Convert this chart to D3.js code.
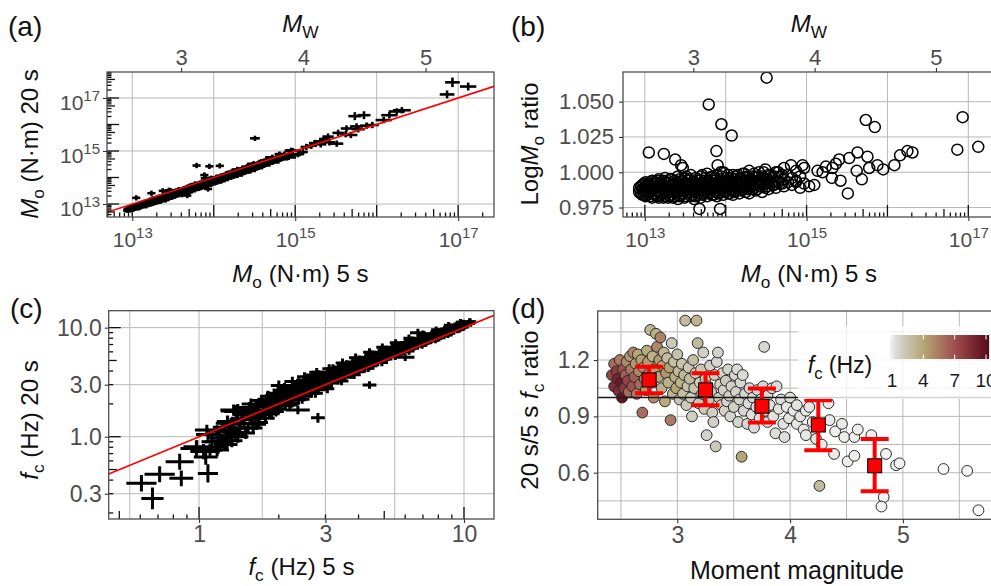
<!DOCTYPE html>
<html>
<head>
<meta charset="utf-8">
<script src="https://cdn.jsdelivr.net/npm/d3@7"></script>
<style>
  body { margin: 0; background: #fff; }
  svg { display: block; }
</style>
</head>
<body>
<div id="chart"></div>
<script>
// ---------- data ----------
// panels (a) and (b): [log10 Mo 5 s, LogMo ratio (20 s / 5 s), x error (decades), y error (decades)]
const moBand = [
  [12.93,0.986,.04,.08],[12.93,0.989,.04,.09],
  [12.97,0.984,.05,.08],[12.97,0.988,.04,.1],[12.97,0.991,.05,.09],
  [13.01,0.983,.04,.09],[13.01,0.986,.05,.08],[13.01,0.99,.04,.1],[13.01,0.993,.05,.09],
  [13.05,0.985,.05,.1],[13.05,0.988,.04,.09],[13.05,0.992,.05,.08],
  [13.09,0.982,.04,.09],[13.09,0.987,.05,.1],[13.09,0.99,.05,.08],[13.09,0.994,.04,.09],
  [13.13,0.984,.05,.09],[13.13,0.989,.04,.1],[13.13,0.993,.05,.08],
  [13.17,0.982,.05,.1],[13.17,0.986,.04,.09],[13.17,0.991,.05,.1],[13.17,0.995,.04,.08],
  [13.21,0.985,.05,.09],[13.21,0.988,.05,.1],[13.21,0.993,.04,.09],
  [13.25,0.983,.04,.1],[13.25,0.987,.05,.09],[13.25,0.99,.05,.08],[13.25,0.996,.04,.1],
  [13.29,0.982,.05,.09],[13.29,0.986,.04,.1],[13.29,0.992,.05,.09],
  [13.33,0.984,.05,.1],[13.33,0.988,.04,.09],[13.33,0.991,.05,.08],[13.33,0.995,.05,.1],
  [13.37,0.983,.04,.09],[13.37,0.987,.05,.1],[13.37,0.994,.05,.09],
  [13.41,0.981,.05,.1],[13.41,0.986,.05,.09],[13.41,0.99,.04,.1],[13.41,0.997,.05,.09],
  [13.45,0.984,.05,.1],[13.45,0.989,.05,.09],[13.45,0.993,.04,.1],
  [13.49,0.982,.05,.09],[13.49,0.987,.05,.1],[13.49,0.991,.06,.09],[13.49,0.996,.05,.1],
  [13.53,0.985,.05,.1],[13.53,0.99,.06,.09],[13.53,0.994,.05,.1],
  [13.57,0.983,.05,.09],[13.57,0.988,.06,.1],[13.57,0.992,.05,.09],[13.57,0.998,.05,.1],
  [13.61,0.981,.06,.1],[13.61,0.986,.05,.09],[13.61,0.99,.05,.1],
  [13.65,0.984,.05,.1],[13.65,0.989,.06,.09],[13.65,0.995,.05,.1],
  [13.69,0.982,.06,.09],[13.69,0.987,.05,.1],[13.69,0.992,.06,.1],[13.69,0.997,.05,.09],
  [13.73,0.985,.05,.1],[13.73,0.99,.06,.09],[13.73,0.994,.05,.1],
  [13.77,0.983,.06,.1],[13.77,0.988,.05,.09],[13.77,0.993,.06,.1],[13.77,0.999,.05,.1],
  [13.81,0.986,.06,.09],[13.81,0.991,.05,.1],[13.81,0.996,.06,.1],
  [13.85,0.984,.06,.1],[13.85,0.989,.06,.09],[13.85,0.994,.05,.1],
  [13.89,0.983,.05,.1],[13.89,0.987,.06,.1],[13.89,0.992,.06,.09],[13.89,0.998,.05,.1],
  [13.93,0.986,.06,.1],[13.93,0.99,.06,.09],[13.93,0.995,.06,.1],
  [13.97,0.984,.06,.1],[13.97,0.989,.06,.1],[13.97,0.993,.05,.09],[13.97,1.0,.06,.1],
  [14.01,0.987,.06,.1],[14.01,0.991,.06,.1],[14.01,0.996,.06,.09],
  [14.05,0.985,.06,.1],[14.05,0.99,.07,.1],[14.05,0.994,.06,.09],
  [14.09,0.984,.06,.1],[14.09,0.988,.07,.1],[14.09,0.993,.06,.1],[14.09,0.998,.06,.09],
  [14.13,0.987,.07,.1],[14.13,0.992,.06,.1],[14.13,0.997,.06,.1],
  [14.17,0.985,.06,.1],[14.17,0.99,.07,.1],[14.17,0.995,.06,.09],
  [14.21,0.988,.07,.1],[14.21,0.993,.06,.1],[14.21,0.999,.07,.1],
  [14.25,0.986,.06,.1],[14.25,0.991,.07,.1],[14.25,0.996,.07,.09],
  [14.29,0.985,.07,.1],[14.29,0.989,.06,.1],[14.29,0.994,.07,.1],[14.29,1.001,.07,.1],
  [14.33,0.988,.07,.1],[14.33,0.993,.07,.1],[14.33,0.997,.06,.1],
  [14.37,0.987,.07,.1],[14.37,0.991,.07,.1],[14.37,0.996,.07,.1],
  [14.41,0.99,.07,.1],[14.41,0.994,.08,.1],[14.41,1.0,.07,.1],
  [14.45,0.986,.07,.1],[14.45,0.992,.08,.1],[14.45,0.997,.07,.1],
  [14.49,0.989,.08,.1],[14.49,0.995,.07,.1],[14.49,1.002,.08,.1],
  [14.53,0.988,.08,.1],[14.53,0.993,.07,.1],[14.53,0.998,.08,.1],
  [14.58,0.991,.08,.1],[14.58,0.996,.08,.1],
  [14.62,0.989,.08,.1],[14.62,0.994,.08,.1],[14.62,1.0,.08,.1],
  [14.67,0.992,.08,.1],[14.67,0.997,.08,.1],
  [14.72,0.99,.09,.1],[14.72,0.995,.08,.1],[14.72,1.003,.09,.1],
  [14.77,0.993,.09,.1],[14.77,0.998,.08,.1],
  [14.82,0.991,.09,.1],[14.82,0.996,.09,.1],
  [14.87,0.994,.09,.1],[14.87,1.001,.09,.1],
  [14.92,0.989,.09,.1],[14.92,0.997,.09,.1],
  [14.97,0.992,.1,.1],[14.97,1.003,.1,.1]
]
const moBand2 = [
  [12.95,0.985,.04,.09],[12.95,0.99,.05,.08],
  [12.99,0.984,.05,.09],[12.99,0.987,.04,.1],[12.99,0.992,.05,.09],
  [13.03,0.984,.05,.08],[13.03,0.988,.04,.09],[13.03,0.991,.05,.1],
  [13.07,0.983,.04,.09],[13.07,0.986,.05,.1],[13.07,0.99,.05,.09],[13.07,0.993,.04,.08],
  [13.11,0.985,.05,.1],[13.11,0.988,.04,.09],[13.11,0.992,.05,.1],
  [13.15,0.983,.05,.09],[13.15,0.987,.04,.1],[13.15,0.99,.05,.08],[13.15,0.994,.05,.09],
  [13.19,0.984,.04,.1],[13.19,0.989,.05,.09],[13.19,0.992,.05,.1],
  [13.23,0.982,.05,.09],[13.23,0.986,.04,.1],[13.23,0.991,.05,.09],[13.23,0.994,.05,.1],
  [13.27,0.985,.05,.09],[13.27,0.989,.04,.1],[13.27,0.993,.05,.09],
  [13.31,0.983,.05,.1],[13.31,0.987,.05,.09],[13.31,0.99,.04,.1],[13.31,0.995,.05,.09],
  [13.35,0.982,.05,.1],[13.35,0.986,.05,.09],[13.35,0.992,.05,.1],
  [13.39,0.985,.04,.09],[13.39,0.989,.05,.1],[13.39,0.993,.05,.09],
  [13.43,0.983,.05,.1],[13.43,0.987,.05,.09],[13.43,0.991,.05,.1],[13.43,0.995,.05,.09],
  [13.47,0.985,.05,.1],[13.47,0.99,.05,.09],[13.47,0.994,.05,.1],
  [13.51,0.983,.05,.09],[13.51,0.988,.06,.1],[13.51,0.992,.05,.09],[13.51,0.997,.05,.1],
  [13.55,0.986,.05,.1],[13.55,0.99,.05,.09],[13.55,0.995,.06,.1],
  [13.59,0.984,.05,.09],[13.59,0.988,.06,.1],[13.59,0.993,.05,.1],
  [13.63,0.983,.06,.09],[13.63,0.987,.05,.1],[13.63,0.991,.05,.09],[13.63,0.996,.06,.1],
  [13.67,0.985,.05,.1],[13.67,0.99,.06,.09],[13.67,0.994,.05,.1],
  [13.71,0.984,.06,.1],[13.71,0.988,.05,.09],[13.71,0.992,.06,.1],[13.71,0.998,.05,.1],
  [13.75,0.986,.06,.09],[13.75,0.991,.05,.1],[13.75,0.996,.06,.1],
  [13.79,0.985,.06,.1],[13.79,0.989,.05,.09],[13.79,0.994,.06,.1],
  [13.83,0.984,.06,.1],[13.83,0.988,.06,.09],[13.83,0.992,.05,.1],[13.83,0.997,.06,.1],
  [13.87,0.986,.06,.1],[13.87,0.991,.06,.09],[13.87,0.996,.06,.1],
  [13.91,0.985,.06,.1],[13.91,0.989,.05,.1],[13.91,0.993,.06,.09],
  [13.95,0.987,.06,.1],[13.95,0.992,.06,.1],[13.95,0.997,.06,.1],
  [13.99,0.986,.06,.1],[13.99,0.99,.06,.09],[13.99,0.994,.06,.1],
  [14.03,0.985,.06,.1],[14.03,0.989,.07,.1],[14.03,0.993,.06,.1],[14.03,0.998,.06,.1],
  [14.07,0.987,.06,.1],[14.07,0.992,.07,.1],[14.07,0.996,.06,.1],
  [14.11,0.986,.07,.1],[14.11,0.99,.06,.1],[14.11,0.995,.07,.1],
  [14.15,0.988,.06,.1],[14.15,0.993,.07,.1],[14.15,0.998,.06,.1],
  [14.19,0.987,.07,.1],[14.19,0.991,.07,.1],[14.19,0.996,.06,.1],
  [14.23,0.989,.07,.1],[14.23,0.994,.07,.1],[14.23,0.999,.07,.1],
  [14.27,0.988,.07,.1],[14.27,0.992,.07,.1],[14.27,0.997,.07,.1],
  [14.31,0.99,.07,.1],[14.31,0.995,.07,.1],
  [14.35,0.989,.07,.1],[14.35,0.994,.07,.1],[14.35,0.999,.07,.1],
  [14.39,0.988,.07,.1],[14.39,0.992,.08,.1],[14.39,0.997,.07,.1],
  [14.43,0.99,.08,.1],[14.43,0.995,.07,.1],
  [14.47,0.991,.08,.1],[14.47,0.996,.08,.1],[14.47,1.0,.07,.1],
  [14.51,0.99,.08,.1],[14.51,0.995,.08,.1],
  [14.56,0.992,.08,.1],[14.56,0.998,.08,.1],
  [14.6,0.991,.08,.1],[14.6,0.997,.08,.1],
  [14.65,0.993,.08,.1],[14.65,1.0,.08,.1],
  [14.7,0.992,.09,.1],[14.7,0.998,.08,.1]
]
const moScatter = [
  [14.506,1.067,.06,.1],[13.79,1.048,.05,.1],[13.947,1.034,.05,.1],[14.074,1.026,.05,.1],
  [13.885,1.015,.05,.1],[13.049,1.014,.05,.1],[13.235,1.013,.05,.1],[13.375,1.009,.05,.1],
  [13.449,1.005,.05,.1],[13.469,1.003,.05,.1],[13.9,1.005,.06,.1],[13.94,1.0,.06,.1],
  [13.675,0.974,.05,.1],[13.93,0.974,.05,.1],[15.732,1.037,.08,.15],[15.844,1.032,.08,.15],
  [16.93,1.039,.09,.18],[16.864,1.016,.09,.15],[17.123,1.018,.1,.15],[16.086,1.005,.1,.12],
  [16.156,1.012,.1,.12],[16.247,1.015,.1,.12],[16.309,1.014,.11,.12],[15.947,1.002,.08,.12],
  [15.876,1.005,.08,.12],[15.753,1.011,.08,.12],[15.774,1.003,.08,.12],[15.63,1.014,.07,.12],
  [15.683,0.995,.08,.12],[15.62,1.001,.07,.12],[15.527,1.01,.07,.12],[15.51,0.985,.08,.12],
  [15.403,1.009,.07,.12],[15.362,1.006,.07,.12],[15.42,0.994,.07,.12],[15.321,1.003,.07,.12],
  [15.239,1.004,.07,.12],[15.198,1.0,.07,.12],[15.313,0.996,.07,.12],[15.136,1.001,.07,.12],
  [15.095,0.991,.06,.12],[15.033,0.99,.06,.12],[14.95,1.005,.06,.1],[14.807,1.005,.06,.1],
  [14.868,0.993,.06,.1]
]

// panel (c): [fc 5 s (Hz), fc 20 s (Hz), x error (decades), y error (decades)]
const fcBand = [
  [1.1,0.75,.045,.06],[1.12,0.9,.04,.06],[1.08,1.05,.045,.055],
  [1.18,0.8,.04,.06],[1.2,0.98,.045,.06],[1.17,1.12,.04,.055],
  [1.26,0.85,.045,.06],[1.27,1.02,.04,.055],[1.25,1.22,.045,.06],[1.28,1.38,.04,.055],
  [1.33,0.92,.04,.06],[1.35,1.1,.045,.055],[1.32,1.3,.04,.06],
  [1.4,1.0,.04,.055],[1.42,1.2,.04,.06],[1.45,1.45,.04,.055],[1.38,1.7,.045,.06],
  [1.5,1.08,.035,.055],[1.48,1.32,.04,.05],[1.52,1.58,.035,.055],[1.55,1.85,.04,.05],
  [1.6,1.2,.035,.05],[1.58,1.45,.035,.055],[1.62,1.72,.04,.05],[1.57,2.0,.035,.05],
  [1.68,1.35,.035,.05],[1.7,1.62,.035,.05],[1.66,1.88,.035,.05],[1.72,2.15,.035,.05],
  [1.78,1.48,.035,.05],[1.8,1.75,.03,.05],[1.76,2.02,.035,.045],[1.82,2.35,.03,.05],
  [1.88,1.62,.03,.05],[1.9,1.92,.035,.045],[1.86,2.18,.03,.05],[1.92,2.5,.03,.045],
  [2.0,1.8,.03,.045],[2.02,2.05,.03,.045],[1.98,2.35,.03,.045],[2.05,2.65,.03,.045],
  [2.12,1.92,.03,.045],[2.1,2.2,.03,.045],[2.15,2.5,.03,.045],[2.1,2.8,.03,.045],
  [2.24,2.05,.03,.045],[2.26,2.35,.03,.045],[2.22,2.62,.03,.045],[2.28,2.95,.03,.045],
  [2.37,2.18,.03,.045],[2.35,2.5,.03,.045],[2.4,2.78,.03,.045],[2.38,3.1,.03,.045],
  [2.5,2.35,.028,.04],[2.52,2.65,.028,.04],[2.55,2.95,.028,.04],[2.48,3.3,.028,.04],
  [2.66,2.5,.028,.04],[2.68,2.82,.028,.04],[2.64,3.12,.028,.04],[2.7,3.45,.028,.04],
  [2.82,2.7,.028,.04],[2.8,3.0,.028,.04],[2.85,3.3,.028,.04],[2.83,3.7,.028,.04],
  [3.0,2.88,.026,.04],[3.02,3.2,.026,.04],[2.98,3.55,.026,.04],[3.05,3.9,.026,.04],
  [3.16,3.1,.026,.04],[3.18,3.42,.026,.04],[3.14,3.75,.026,.04],[3.2,4.2,.026,.04],
  [3.35,3.3,.026,.04],[3.33,3.62,.026,.04],[3.38,3.98,.026,.04],[3.36,4.35,.026,.04],
  [3.55,3.5,.025,.038],[3.57,3.85,.025,.038],[3.52,4.2,.025,.038],[3.6,4.6,.025,.038],
  [3.76,3.72,.025,.038],[3.78,4.08,.025,.038],[3.74,4.45,.025,.038],[3.8,4.85,.025,.038],
  [3.98,3.95,.024,.036],[4.0,4.32,.024,.036],[3.96,4.7,.024,.036],[4.02,5.1,.024,.036],
  [4.22,4.2,.024,.036],[4.24,4.58,.024,.036],[4.2,4.95,.024,.036],[4.26,5.35,.024,.036],
  [4.47,4.48,.023,.035],[4.5,4.85,.023,.035],[4.45,5.25,.023,.035],[4.5,5.7,.023,.035],
  [4.73,4.8,.023,.035],[4.75,5.15,.023,.035],[4.7,5.55,.023,.035],[4.78,5.95,.023,.035],
  [5.0,5.1,.022,.034],[5.02,5.5,.022,.034],[4.98,5.85,.022,.034],[5.05,6.3,.022,.034],
  [5.3,5.4,.022,.034],[5.32,5.8,.022,.034],[5.28,6.15,.022,.034],[5.35,6.6,.022,.034],
  [5.62,5.7,.021,.033],[5.6,6.1,.021,.033],[5.65,6.5,.021,.033],[5.58,6.9,.021,.033],
  [5.95,6.05,.021,.033],[5.97,6.45,.021,.033],[5.93,6.85,.021,.033],[6.0,7.3,.021,.033],
  [6.3,6.4,.02,.032],[6.32,6.8,.02,.032],[6.28,7.2,.02,.032],[6.35,7.7,.02,.032],
  [6.68,6.75,.02,.032],[6.7,7.2,.02,.032],[6.65,7.6,.02,.032],[6.72,8.0,.02,.032],
  [7.08,7.15,.02,.031],[7.1,7.6,.02,.031],[7.05,8.05,.02,.031],[7.12,8.4,.02,.031],
  [7.5,7.55,.019,.03],[7.52,8.0,.019,.03],[7.48,8.45,.019,.03],[7.55,8.8,.019,.03],
  [7.94,7.95,.019,.03],[7.96,8.45,.019,.03],[7.9,8.85,.019,.03],[8.0,9.2,.019,.03],
  [8.4,8.4,.018,.03],[8.42,8.9,.018,.03],[8.38,9.35,.018,.03],[8.45,9.7,.018,.03],
  [8.9,8.9,.018,.03],[8.92,9.4,.018,.03],[8.88,9.85,.018,.03],[8.95,10.2,.018,.03],
  [9.45,9.5,.018,.03],[9.5,10.0,.018,.03],[9.4,10.4,.018,.03],[9.5,10.8,.018,.03],
  [10.0,10.1,.017,.03],[10.05,10.6,.017,.03],[9.95,11.0,.017,.03],
  [10.6,10.9,.017,.03],[10.55,11.3,.017,.03]
]
const fcBand2 = [
  [1.22,0.92,.045,.06],[1.3,1.15,.045,.06],[1.37,1.05,.04,.055],[1.44,1.32,.04,.055],
  [1.47,1.6,.04,.055],[1.53,1.2,.04,.05],[1.56,1.45,.035,.05],[1.64,1.55,.035,.05],
  [1.65,1.3,.035,.05],[1.74,1.6,.035,.05],[1.75,1.9,.035,.05],[1.84,1.7,.03,.05],
  [1.85,2.05,.03,.05],[1.95,1.95,.03,.045],[1.96,2.25,.03,.045],[2.06,2.1,.03,.045],
  [2.07,2.4,.03,.045],[2.18,2.25,.03,.045],[2.19,2.6,.03,.045],[2.31,2.4,.03,.045],
  [2.3,2.75,.03,.045],[2.44,2.55,.03,.045],[2.43,2.9,.03,.045],[2.58,2.75,.028,.04],
  [2.6,3.05,.028,.04],[2.74,2.95,.028,.04],[2.75,3.25,.028,.04],[2.9,3.1,.028,.04],
  [2.92,3.45,.028,.04],[3.08,3.3,.026,.04],[3.1,3.65,.026,.04],[3.25,3.55,.026,.04],
  [3.27,3.9,.026,.04],[3.45,3.75,.026,.04],[3.46,4.1,.026,.04],[3.65,4.0,.025,.038],
  [3.66,4.4,.025,.038],[3.87,4.25,.025,.038],[3.88,4.62,.025,.038],[4.1,4.5,.024,.036],
  [4.1,4.9,.024,.036],[4.35,4.8,.024,.036],[4.36,5.2,.024,.036],[4.6,5.05,.023,.035],
  [4.62,5.45,.023,.035],[4.86,5.35,.023,.035],[4.88,5.75,.023,.035],[5.15,5.65,.022,.034],
  [5.16,6.05,.022,.034],[5.45,5.95,.022,.034],[5.47,6.4,.022,.034],[5.78,6.3,.021,.033],
  [5.8,6.7,.021,.033],[6.12,6.6,.021,.033],[6.14,7.05,.021,.033],[6.5,7.0,.02,.032],
  [6.5,7.45,.02,.032],[6.88,7.4,.02,.032],[6.9,7.85,.02,.032],[7.3,7.8,.02,.031],
  [7.3,8.25,.02,.031],[7.72,8.2,.019,.03],[7.74,8.7,.019,.03],[8.16,8.65,.019,.03],
  [8.18,9.1,.019,.03],[8.65,9.1,.018,.03],[8.66,9.55,.018,.03],[9.17,9.6,.018,.03],
  [9.2,10.1,.018,.03],[9.7,10.2,.018,.03],[9.75,10.7,.018,.03],[10.3,10.7,.017,.03]
]
const fcBand3 = [
  [1.95,1.7,.03,.045],[2.0,2.95,.03,.045],[2.2,1.95,.03,.045],[2.25,3.2,.03,.045],
  [2.45,2.2,.028,.04],[2.5,3.55,.028,.04],[2.75,2.5,.028,.04],[2.78,3.9,.028,.04],
  [3.05,2.75,.026,.04],[3.1,4.2,.026,.04],[3.45,3.25,.026,.04],[3.48,4.75,.026,.04],
  [3.85,3.7,.025,.038],[3.9,5.3,.025,.038],[4.35,4.25,.024,.036],[4.4,5.95,.024,.036],
  [4.9,4.8,.023,.035],[4.92,6.6,.023,.035],[5.5,5.45,.022,.034],[5.52,7.25,.022,.034],
  [6.2,6.1,.021,.033],[6.2,8.0,.021,.033],[6.95,6.9,.02,.032],[7.0,8.75,.02,.032],
  [7.8,7.7,.019,.03],[7.85,9.55,.019,.03],[8.7,8.6,.018,.03],[8.75,10.5,.018,.03],
  [9.6,9.6,.018,.03],[9.7,11.2,.018,.03],
  [2.6,2.8,.028,.04],[3.3,3.7,.026,.04],[4.2,4.7,.024,.036],[5.2,5.9,.022,.034],
  [6.5,7.2,.02,.032],[8.0,8.7,.019,.03],[1.6,1.65,.04,.05],[1.8,2.2,.035,.05]
]
const fcScatter = [
  [0.606,0.374,.057,.076],[0.667,0.272,.042,.1],[0.71,0.452,.057,.073],[0.857,0.415,.045,.073],
  [0.845,0.59,.053,.073],[1.08,0.461,.038,.083],[0.977,0.78,.06,.073],[1.04,0.73,.05,.07],
  [1.06,0.65,.045,.07],[1.4,1.72,.064,.064],[1.34,1.33,.064,.06],[1.18,0.9,.05,.06],
  [2.36,1.76,.045,.04],[2.81,1.49,.026,.045],[4.4,2.98,.026,.035],[6.0,5.35,.035,.035],
  [6.7,9.0,.03,.035],[10.5,11.35,.025,.03],[2.7,3.68,.03,.04],[1.35,1.76,.05,.05],
  [1.07,1.15,.045,.05],[0.98,0.81,.05,.06],[1.17,0.755,.045,.06]
]

// panel (d): [moment magnitude, 20 s / 5 s fc ratio, fc (Hz)]
const ratioPts = [
  [2.42,1.12,7.5],[2.44,1.18,6.0],[2.44,1.06,8.5],[2.46,1.14,8.0],[2.47,1.1,9.0],[2.48,1.035,8.5],
  [2.49,1.2,5.5],[2.5,1.08,9.5],[2.51,1.0,9.8],[2.52,1.15,7.0],[2.53,1.05,8.0],[2.54,1.12,6.5],
  [2.55,1.19,5.0],[2.56,1.09,7.5],[2.57,1.03,6.0],[2.58,1.22,4.5],[2.59,1.15,5.5],[2.6,1.06,7.0],
  [2.61,1.24,5.0],[2.62,1.11,6.5],[2.63,1.18,4.5],[2.64,1.02,5.5],[2.65,1.23,4.0],[2.66,1.14,5.0],
  [2.67,1.07,6.0],[2.68,1.2,4.2],[2.69,0.92,6.0],[2.7,1.16,4.8],[2.71,1.1,5.5],[2.72,1.04,4.5],
  [2.73,1.25,3.8],[2.74,1.19,4.5],[2.75,1.13,5.2],[2.76,1.36,3.2],[2.77,1.08,4.0],[2.78,1.22,3.5],
  [2.79,1.0,4.8],[2.8,1.15,4.2],[2.81,1.34,3.5],[2.82,1.27,5.0],[2.83,1.11,3.8],[2.84,1.2,4.5],
  [2.85,1.32,5.2],[2.86,1.05,3.5],[2.87,1.17,4.0],[2.88,1.24,3.2],[2.89,0.98,3.8],[2.9,1.13,4.6],
  [2.91,1.21,3.0],[2.92,1.08,3.5],[2.93,1.16,4.2],[2.94,0.88,5.5],[2.95,1.29,2.2],[2.96,1.02,3.2],
  [2.97,1.19,2.8],[2.98,1.11,3.6],[2.99,1.05,4.0],[3.0,1.23,2.6],
  [3.01,1.14,3.0],[3.02,0.99,2.4],[3.03,1.08,3.4],[3.04,1.18,2.5],[3.05,1.02,2.8],[3.06,1.12,3.2],
  [3.07,1.41,3.0],[3.08,0.96,2.2],[3.09,1.06,2.6],[3.1,1.16,2.3],[3.11,1.1,3.0],[3.12,1.0,2.0],
  [3.13,0.9,1.9],[3.14,1.2,2.8],[3.15,1.05,2.5],[3.16,1.13,2.2],[3.17,1.41,3.4],[3.18,1.29,3.0],
  [3.19,0.97,2.4],[3.2,1.08,2.0],
  [3.21,1.15,2.3],[3.22,1.02,2.6],[3.23,1.24,1.9],[3.24,0.94,2.2],[3.25,1.1,2.4],[3.26,0.8,1.7],
  [3.27,1.06,2.0],[3.28,0.99,2.5],[3.29,1.17,1.8],[3.3,1.03,2.2],[3.31,0.92,1.9],[3.32,0.87,1.8],
  [3.33,1.12,2.0],[3.34,0.74,2.2],[3.35,1.19,1.6],[3.36,1.24,1.7],[3.37,1.0,2.1],[3.38,1.07,1.8],
  [3.39,0.96,2.3],[3.4,1.13,1.7],
  [3.41,1.04,1.9],[3.42,0.93,1.8],[3.43,1.09,2.2],[3.44,0.98,1.6],[3.45,1.15,1.7],[3.46,1.01,2.0],
  [3.47,0.9,1.6],[3.48,1.06,1.8],[3.5,0.95,1.9],[3.51,1.12,1.5],[3.52,1.03,1.7],[3.53,1.15,1.4],
  [3.54,0.87,1.6],[3.55,0.99,1.8],[3.56,1.08,1.5],[3.57,0.685,4.0],[3.58,1.12,1.4],[3.59,0.93,1.5],
  [3.6,1.02,1.6],
  [3.62,0.86,1.5],[3.63,0.97,1.4],[3.64,1.05,1.6],[3.66,0.91,1.3],[3.67,1.0,1.5],[3.68,0.84,1.4],
  [3.7,0.95,1.3],[3.71,1.04,1.6],[3.73,0.89,1.3],[3.74,0.99,1.4],[3.76,1.06,1.5],[3.77,1.27,1.5],
  [3.78,0.93,1.3],[3.8,0.87,1.2],[3.8,1.01,1.4],
  [3.82,0.96,1.3],[3.84,1.05,1.4],[3.85,0.9,1.2],[3.87,0.81,1.3],[3.88,1.06,1.4],[3.9,0.94,1.2],
  [3.92,0.99,1.3],[3.94,0.86,1.2],[3.95,0.79,1.3],[3.97,0.95,1.1],[3.99,0.89,1.2],[4.0,1.0,1.3],
  [4.03,0.93,1.1],[4.06,0.96,1.2],[4.06,0.86,1.1],[4.09,0.9,1.2],[4.12,0.83,1.1],[4.14,0.93,1.0],
  [4.14,0.8,1.1],[4.17,0.95,1.1],[4.2,0.87,1.0],[4.23,0.78,1.1],[4.26,0.53,3.0],[4.28,0.75,1.0],
  [4.34,0.97,1.0],[4.35,0.88,1.0],[4.39,0.7,1.0],[4.4,0.82,0.9],[4.46,0.86,1.0],[4.48,0.79,0.9],
  [4.51,0.66,0.9],[4.57,0.69,0.9],[4.57,0.79,0.9],[4.6,0.83,0.9],[4.72,0.8,0.9],[4.83,0.47,0.8],
  [4.81,0.42,0.8],[4.85,0.7,0.8],[4.94,0.64,0.8],[4.97,0.65,0.8],
  [5.36,0.62,0.7],[5.57,0.61,0.7],[5.67,0.4,0.6]
]
// binned means with error bars
const binMw = [2.75, 3.25, 3.75, 4.25, 4.75]
const binMean = [1.094, 1.041, 0.954, 0.854, 0.637]
const binLow = [1.023, 0.959, 0.868, 0.72, 0.502]
const binHigh = [1.164, 1.129, 1.048, 0.986, 0.779]

// legend colour scale for fc
const fcStops = [0.6, 1.5, 4, 7, 10.3]
const fcColors = ['#fafafa', '#d6d6d2', '#b4a775', '#a04e4f', '#570817']
const fcBarRange = [0.8, 10.3]
const fcLegendTicks = [1, 4, 7, 10]

// ---------- setup ----------
const svg = d3.select('#chart').append('svg')
  .attr('width', 991).attr('height', 586)
  .attr('font-family', '"Liberation Sans", Arial, sans-serif')

const toMw = mo => (Math.log10(mo) - 9.1) / 1.5
const gridColor = '#b8b8b8'
let clipN = 0

function makePanel(box) {
  const g = svg.append('g')
  const id = 'clip' + (clipN++)
  g.append('clipPath').attr('id', id).append('rect')
    .attr('x', box.x0).attr('y', box.y0)
    .attr('width', box.x1 - box.x0).attr('height', box.y1 - box.y0)
  g.append('rect')
    .attr('x', box.x0).attr('y', box.y0)
    .attr('width', box.x1 - box.x0).attr('height', box.y1 - box.y0)
    .attr('fill', '#fff')
  const grid = g.append('g')
  const plot = g.append('g').attr('clip-path', `url(#${id})`)
  const top = g.append('g')
  return {g, grid, plot, top, box}
}

function gridLines(p, xs, xv, ys, yv) {
  const b = p.box
  p.grid.selectAll('line.gx').data(xv).join('line').attr('class', 'gx')
    .attr('x1', d => xs(d)).attr('x2', d => xs(d))
    .attr('y1', b.y0).attr('y2', b.y1)
    .attr('stroke', gridColor).attr('stroke-width', 1)
  p.grid.selectAll('line.gy').data(yv).join('line').attr('class', 'gy')
    .attr('x1', b.x0).attr('x2', b.x1)
    .attr('y1', d => ys(d)).attr('y2', d => ys(d))
    .attr('stroke', gridColor).attr('stroke-width', 1)
}

function border(p) {
  const b = p.box
  p.top.append('rect')
    .attr('x', b.x0).attr('y', b.y0)
    .attr('width', b.x1 - b.x0).attr('height', b.y1 - b.y0)
    .attr('fill', 'none').attr('stroke', '#4d4d4d').attr('stroke-width', 1.3)
}

// log ticks drawn inside the panel (like annotation_logticks)
function logTicks(p, scale, side) {
  const [d0, d1] = scale.domain()
  const vals = []
  for (let e = Math.floor(Math.log10(d0)); e <= Math.ceil(Math.log10(d1)); e++) {
    for (let k = 1; k <= 9; k++) {
      const v = k * Math.pow(10, e)
      if (v >= d0 && v <= d1) vals.push({v, len: k === 1 ? 12 : k === 5 ? 8 : 4.5})
    }
  }
  const b = p.box
  const sel = p.top.append('g').selectAll('line').data(vals).join('line')
    .attr('stroke', '#111').attr('stroke-width', 1.3)
  if (side === 'bottom') {
    sel.attr('x1', d => scale(d.v)).attr('x2', d => scale(d.v))
      .attr('y1', b.y1).attr('y2', d => b.y1 - d.len)
  } else {
    sel.attr('y1', d => scale(d.v)).attr('y2', d => scale(d.v))
      .attr('x1', b.x0).attr('x2', d => b.x0 + d.len)
  }
}

function styleAxis(a, size) {
  a.attr('font-family', null).attr('font-size', size)
  a.select('.domain').remove()
  a.selectAll('.tick line').attr('stroke', '#333').attr('stroke-width', 1.1)
  a.selectAll('.tick text').attr('fill', '#4d4d4d')
  return a
}

// "10^n" labels
function powLabels(a, orient) {
  a.selectAll('.tick text').each(function (d) {
    const t = d3.select(this).text(null).attr('dy', null)
    if (orient === 'bottom') t.attr('y', 29.7)
    else t.attr('x', -7).attr('y', 11.5)
    t.append('tspan').attr('font-size', 21).text('10')
    t.append('tspan').attr('font-size', 15).attr('dy', -9).text(Math.round(Math.log10(d)))
  })
}

// text with italic / subscript pieces
function mathText(parent, x, y, parts, size, rotate) {
  const t = parent.append('text')
    .attr('font-size', size).attr('fill', '#111').attr('text-anchor', 'middle')
  if (rotate) t.attr('transform', `translate(${x},${y}) rotate(-90)`)
  else t.attr('x', x).attr('y', y)
  parts.forEach((p, i) => {
    const s = t.append('tspan').text(p.t)
    if (p.it) s.attr('font-style', 'italic')
    if (p.sub) s.attr('font-size', size * 0.72).attr('dy', size * 0.26)
    else if (i > 0 && parts[i - 1].sub) s.attr('dy', -size * 0.26)
  })
  return t
}

function panelLetter(x, y, s) {
  svg.append('text').attr('x', x).attr('y', y).attr('font-size', 28).attr('fill', '#111').text(s)
}

function crosses(p, data, xs, ys, width) {
  const g = p.plot.append('g').attr('stroke', '#000').attr('stroke-width', width)
  g.selectAll('line.h').data(data).join('line').attr('class', 'h')
    .attr('x1', d => xs(d.x * Math.pow(10, -d.ex))).attr('x2', d => xs(d.x * Math.pow(10, d.ex)))
    .attr('y1', d => ys(d.y)).attr('y2', d => ys(d.y))
  g.selectAll('line.v').data(data).join('line').attr('class', 'v')
    .attr('x1', d => xs(d.x)).attr('x2', d => xs(d.x))
    .attr('y1', d => ys(d.y * Math.pow(10, -d.ey))).attr('y2', d => ys(d.y * Math.pow(10, d.ey)))
}

const decades = [1e13, 1e14, 1e15, 1e16, 1e17]
const moAll = moBand.concat(moBand2, moScatter)

// ---------- panel (a) ----------
const pA = makePanel({x0: 107, x1: 494, y0: 72, y1: 217})
const xA = d3.scaleLog().domain([Math.pow(10, 12.69), Math.pow(10, 17.44)]).range([107, 494])
const yA = d3.scaleLog().domain([Math.pow(10, 12.51), Math.pow(10, 17.98)]).range([217, 72])
gridLines(pA, xA, decades, yA, [1e13, 1e15, 1e17])

const crossA = moAll.map(d => ({
  x: Math.pow(10, d[0]), y: Math.pow(10, d[0] * d[1]), ex: d[2], ey: d[3]
}))
crosses(pA, crossA, xA, yA, 2.6)
pA.plot.append('line')
  .attr('x1', xA(xA.domain()[0])).attr('y1', yA(xA.domain()[0]))
  .attr('x2', xA(xA.domain()[1])).attr('y2', yA(xA.domain()[1]))
  .attr('stroke', '#ff0000').attr('stroke-width', 1.6)
logTicks(pA, xA, 'bottom')
logTicks(pA, yA, 'left')
border(pA)

const axAb = styleAxis(pA.g.append('g').attr('transform', 'translate(0,217)')
  .call(d3.axisBottom(xA).tickValues([1e13, 1e15, 1e17]).tickSize(4).tickFormat(() => '')), 21)
powLabels(axAb, 'bottom')
const axAl = styleAxis(pA.g.append('g').attr('transform', 'translate(107,0)')
  .call(d3.axisLeft(yA).tickValues([1e13, 1e15, 1e17]).tickSize(4).tickFormat(() => '')), 21)
powLabels(axAl, 'left')
const mwA = d3.scaleLinear().domain(xA.domain().map(toMw)).range(xA.range())
styleAxis(pA.g.append('g').attr('transform', 'translate(0,72)')
  .call(d3.axisTop(mwA).tickValues([3, 4, 5]).tickSize(4).tickPadding(3).tickFormat(d3.format('d'))), 22)

mathText(svg, 300.5, 31.7, [{t: 'M', it: true}, {t: 'W', sub: true}], 24)
mathText(svg, 300.5, 282, [{t: 'M', it: true}, {t: 'o', sub: true}, {t: ' (N·m) 5 s'}], 24)
mathText(svg, 38, 144, [{t: 'M', it: true}, {t: 'o', sub: true}, {t: ' (N·m) 20 s'}], 24, true)
panelLetter(8, 36, '(a)')

// ---------- panel (b) ----------
const pB = makePanel({x0: 623, x1: 995, y0: 72, y1: 217})
const xB = d3.scaleLog().domain([Math.pow(10, 12.73), Math.pow(10, 17.33)]).range([623, 995])
const yB = d3.scaleLinear().domain([0.9683, 1.071]).range([217, 72])
gridLines(pB, xB, decades, yB, [0.975, 1.0, 1.025, 1.05])
pB.plot.selectAll('circle').data(moAll).join('circle')
  .attr('cx', d => xB(Math.pow(10, d[0]))).attr('cy', d => yB(d[1]))
  .attr('r', 5.5).attr('fill', 'none').attr('stroke', '#000').attr('stroke-width', 1.5)
logTicks(pB, xB, 'bottom')
border(pB)

const axBb = styleAxis(pB.g.append('g').attr('transform', 'translate(0,217)')
  .call(d3.axisBottom(xB).tickValues([1e13, 1e15, 1e17]).tickSize(4).tickFormat(() => '')), 21)
powLabels(axBb, 'bottom')
styleAxis(pB.g.append('g').attr('transform', 'translate(623,0)')
  .call(d3.axisLeft(yB).tickValues([0.975, 1.0, 1.025, 1.05]).tickSize(4).tickPadding(5)
    .tickFormat(d3.format('.3f'))), 22)
const mwB = d3.scaleLinear().domain(xB.domain().map(toMw)).range(xB.range())
styleAxis(pB.g.append('g').attr('transform', 'translate(0,72)')
  .call(d3.axisTop(mwB).tickValues([3, 4, 5]).tickSize(4).tickPadding(3).tickFormat(d3.format('d'))), 22)

mathText(svg, 809, 31.7, [{t: 'M', it: true}, {t: 'W', sub: true}], 24)
mathText(svg, 809, 282, [{t: 'M', it: true}, {t: 'o', sub: true}, {t: ' (N·m) 5 s'}], 24)
mathText(svg, 538, 144, [{t: 'Log'}, {t: 'M', it: true}, {t: 'o', sub: true}, {t: ' ratio'}], 24, true)
panelLetter(511, 36, '(b)')

// ---------- panel (c) ----------
const pC = makePanel({x0: 108.7, x1: 494, y0: 310.7, y1: 519})
const xC = d3.scaleLog().domain([0.456, 12.98]).range([108.7, 494])
const yC = d3.scaleLog().domain([0.176, 14.3]).range([519, 310.7])
gridLines(pC, xC, [Math.sqrt(0.3), 1, Math.sqrt(3), 3, Math.sqrt(30), 10], yC, [0.3, 1, 3, 10])
const crossC = fcScatter.concat(fcBand, fcBand2, fcBand3).map(d => ({x: d[0], y: d[1], ex: d[2], ey: d[3]}))
crosses(pC, crossC, xC, yC, 3)
pC.plot.append('line')
  .attr('x1', xC(xC.domain()[0])).attr('y1', yC(xC.domain()[0]))
  .attr('x2', xC(xC.domain()[1])).attr('y2', yC(xC.domain()[1]))
  .attr('stroke', '#ff0000').attr('stroke-width', 1.6)
logTicks(pC, xC, 'bottom')
logTicks(pC, yC, 'left')
border(pC)

styleAxis(pC.g.append('g').attr('transform', 'translate(0,519)')
  .call(d3.axisBottom(xC).tickValues([1, 3, 10]).tickSize(4).tickPadding(3).tickFormat(d3.format('d'))), 23)
styleAxis(pC.g.append('g').attr('transform', 'translate(108.7,0)')
  .call(d3.axisLeft(yC).tickValues([0.3, 1, 3, 10]).tickSize(4).tickPadding(3).tickFormat(d3.format('.1f'))), 23)

mathText(svg, 301.4, 575, [{t: 'f', it: true}, {t: 'c', sub: true}, {t: ' (Hz) 5 s'}], 24)
mathText(svg, 38, 420, [{t: 'f', it: true}, {t: 'c', sub: true}, {t: ' (Hz) 20 s'}], 24, true)
panelLetter(10, 318, '(c)')

// ---------- panel (d) ----------
const pD = makePanel({x0: 597.7, x1: 996.5, y0: 311, y1: 519.3})
const xD = d3.scaleLinear().domain([2.294, 5.83]).range([597.7, 996.5])
const yD = d3.scaleLinear().domain([0.352, 1.461]).range([519.3, 311])
gridLines(pD, xD, [2.5, 3, 3.5, 4, 4.5, 5, 5.5], yD, [0.45, 0.6, 0.75, 0.9, 1.05, 1.2, 1.35])
const fcColor = d3.scaleLinear().domain(fcStops).range(fcColors).clamp(true)

pD.plot.selectAll('circle').data(ratioPts).join('circle')
  .attr('cx', d => xD(d[0])).attr('cy', d => yD(d[1])).attr('r', 5.4)
  .attr('fill', d => fcColor(d[2])).attr('stroke', '#2b2b2b').attr('stroke-width', 1)
pD.plot.append('line')
  .attr('x1', 597.7).attr('x2', 996.5).attr('y1', yD(1)).attr('y2', yD(1))
  .attr('stroke', '#1a1a1a').attr('stroke-width', 1.5)

const bins = binMw.map((m, i) => ({m, mean: binMean[i], lo: binLow[i], hi: binHigh[i]}))
const eb = pD.plot.append('g').attr('stroke', '#ff0000').attr('stroke-width', 4)
eb.selectAll('line.w').data(bins).join('line').attr('class', 'w')
  .attr('x1', d => xD(d.m)).attr('x2', d => xD(d.m)).attr('y1', d => yD(d.lo)).attr('y2', d => yD(d.hi))
eb.selectAll('line.ct').data(bins).join('line').attr('class', 'ct')
  .attr('x1', d => xD(d.m) - 14).attr('x2', d => xD(d.m) + 14).attr('y1', d => yD(d.hi)).attr('y2', d => yD(d.hi))
eb.selectAll('line.cb').data(bins).join('line').attr('class', 'cb')
  .attr('x1', d => xD(d.m) - 14).attr('x2', d => xD(d.m) + 14).attr('y1', d => yD(d.lo)).attr('y2', d => yD(d.lo))
pD.plot.selectAll('rect.sq').data(bins).join('rect').attr('class', 'sq')
  .attr('x', d => xD(d.m) - 7).attr('y', d => yD(d.mean) - 7).attr('width', 14).attr('height', 14)
  .attr('fill', '#ff0000').attr('stroke', '#000').attr('stroke-width', 1)

// legend
const lg = pD.plot.append('g')
lg.append('rect').attr('x', 798).attr('y', 326).attr('width', 200).attr('height', 73)
  .attr('fill', '#fff').attr('fill-opacity', 0.8)
mathText(lg, 840, 373, [{t: 'f', it: true}, {t: 'c', sub: true}, {t: ' (Hz)'}], 23)
const cbX = d3.scaleLinear().domain([1, 10]).range([892, 986])
const grad = svg.append('defs').append('linearGradient').attr('id', 'fcgrad')
grad.selectAll('stop').data(d3.range(0, 1.001, 0.05)).join('stop')
  .attr('offset', d => d)
  .attr('stop-color', d => fcColor(fcBarRange[0] + d * (fcBarRange[1] - fcBarRange[0])))
lg.append('rect').attr('x', cbX(fcBarRange[0])).attr('y', 335)
  .attr('width', cbX(fcBarRange[1]) - cbX(fcBarRange[0])).attr('height', 24)
  .attr('fill', 'url(#fcgrad)')
lg.selectAll('line.tk1').data(fcLegendTicks).join('line').attr('class', 'tk1')
  .attr('x1', d => cbX(d)).attr('x2', d => cbX(d)).attr('y1', 335).attr('y2', 339.5)
  .attr('stroke', '#fff').attr('stroke-width', 1)
lg.selectAll('line.tk2').data(fcLegendTicks).join('line').attr('class', 'tk2')
  .attr('x1', d => cbX(d)).attr('x2', d => cbX(d)).attr('y1', 354.5).attr('y2', 359)
  .attr('stroke', '#fff').attr('stroke-width', 1)
lg.selectAll('text.tl').data(fcLegendTicks).join('text').attr('class', 'tl')
  .attr('x', d => cbX(d)).attr('y', 387).attr('text-anchor', 'middle')
  .attr('font-size', 19).attr('fill', '#1a1a1a').text(d => d)
border(pD)

styleAxis(pD.g.append('g').attr('transform', 'translate(0,519.3)')
  .call(d3.axisBottom(xD).tickValues([3, 4, 5]).tickSize(4).tickPadding(3).tickFormat(d3.format('d'))), 23)
styleAxis(pD.g.append('g').attr('transform', 'translate(597.7,0)')
  .call(d3.axisLeft(yD).tickValues([0.6, 0.9, 1.2]).tickSize(4).tickPadding(4).tickFormat(d3.format('.1f'))), 23)

svg.append('text').attr('x', 797).attr('y', 579).attr('text-anchor', 'middle')
  .attr('font-size', 25).attr('fill', '#111').text('Moment magnitude')
mathText(svg, 538, 410, [{t: '20 s/5 s '}, {t: 'f', it: true}, {t: 'c', sub: true}, {t: ' ratio'}], 24, true)
panelLetter(511, 318, '(d)')
</script>
</body>
</html>
